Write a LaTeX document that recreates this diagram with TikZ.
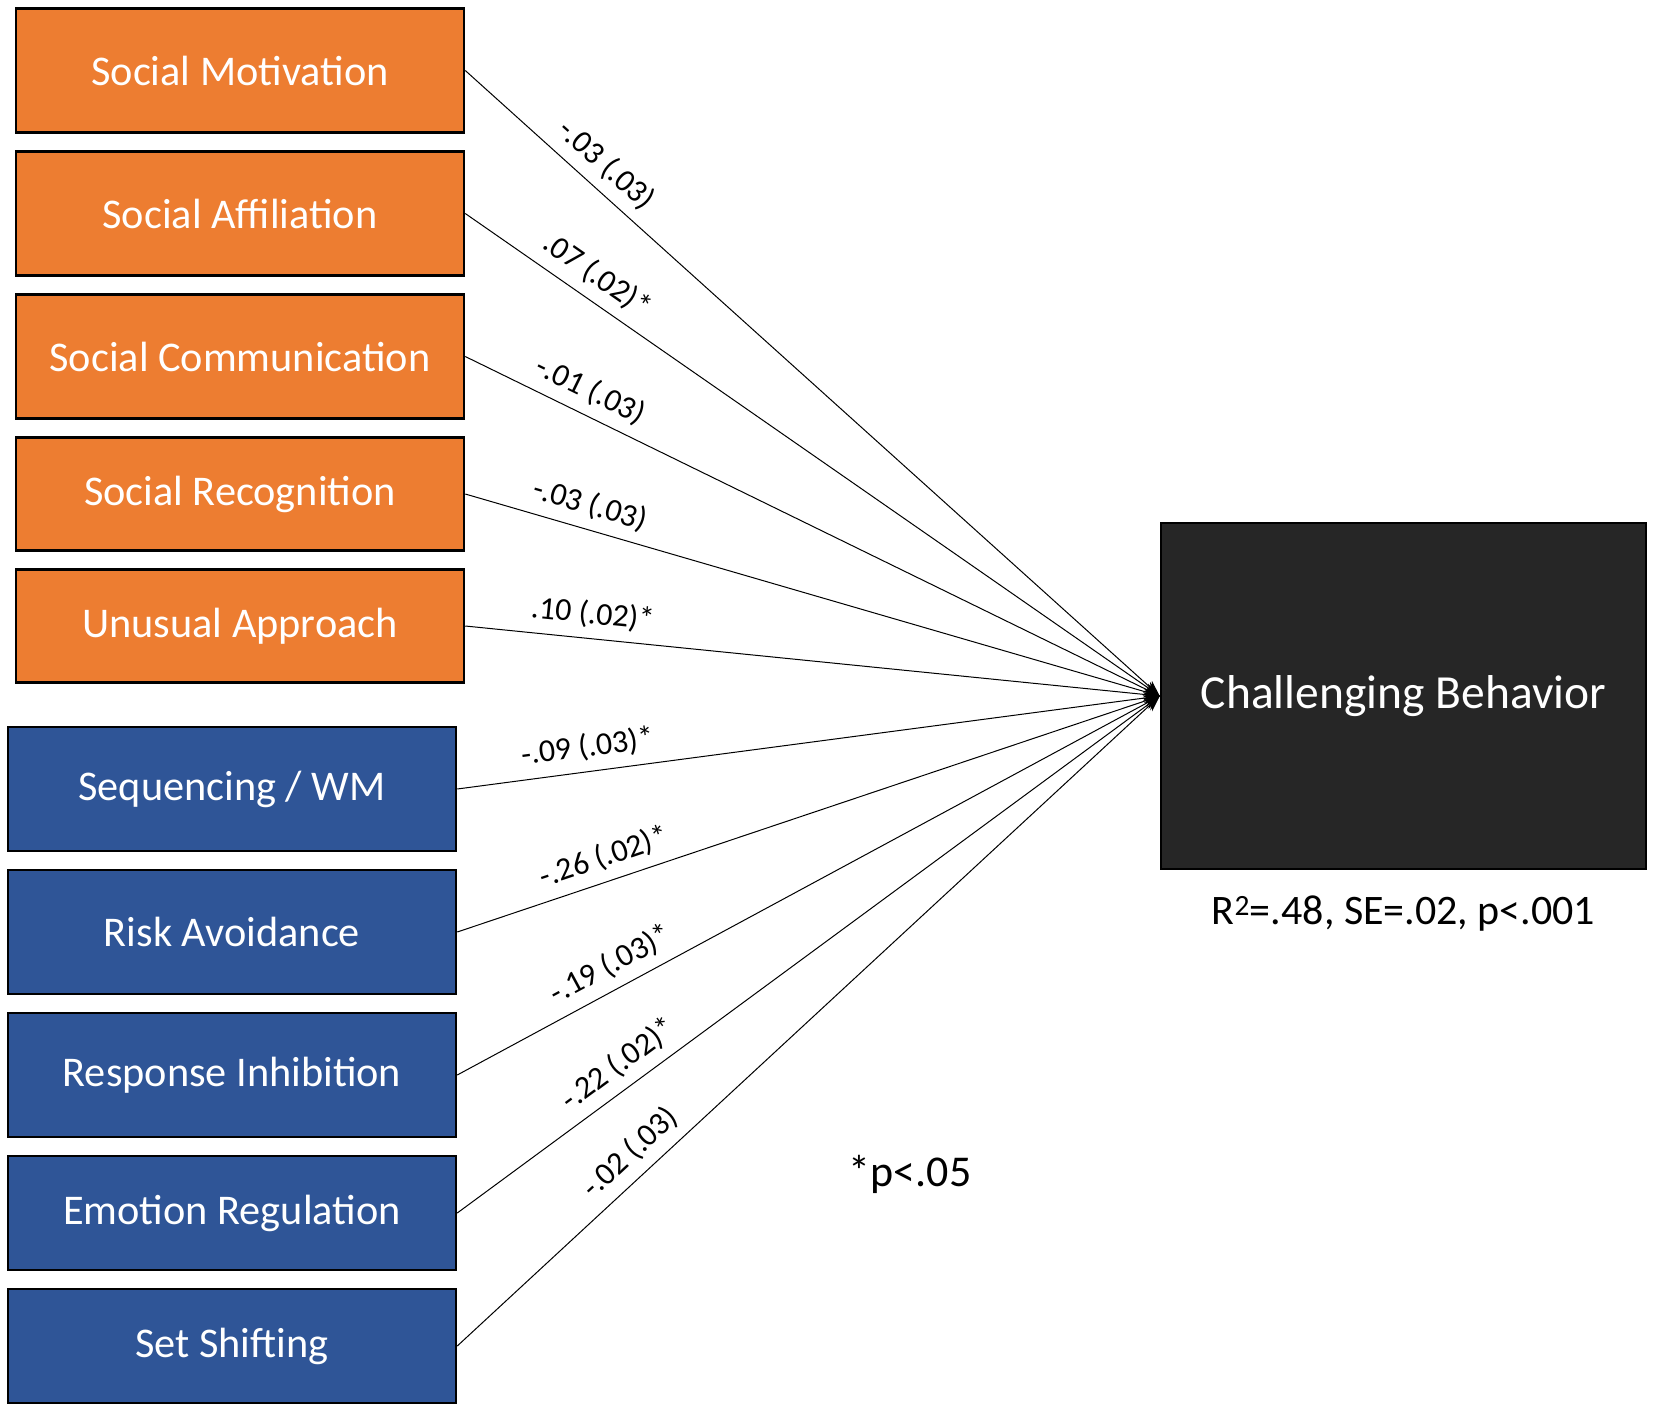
\documentclass[tikz,border=0pt]{standalone}
\usepackage{fontspec}
\setmainfont{Carlito}
\usetikzlibrary{positioning,arrows.meta}
\definecolor{orng}{HTML}{ED7D31}
\definecolor{blu}{HTML}{2F5597}
\definecolor{blk}{HTML}{262626}
\begin{document}
\begin{tikzpicture}[x=1pt, y=-1pt, node distance=16.5pt,
  box/.style={draw=black, line width=2.5pt, minimum width=448pt, text=white, font=\fontsize{42.3}{50}\selectfont},
  obox/.style={box, fill=orng, minimum height=124pt},
  bbox/.style={box, fill=blu, minimum height=124pt},
  path/.style={-{Stealth[length=16pt,width=12pt]}, line width=1pt},
  lbl/.style={sloped, above=8pt, inner sep=2pt, font=\fontsize{32}{38}\selectfont}]
\useasboundingbox (0,0) rectangle (1654,1410);

\node [obox] (SM) at (240,70.5) {Social Motivation};
\node [obox, below=of SM] (SA) {Social Affiliation};
\node [obox, below=of SA] (SC) {Social Communication};
\node [obox, below=of SC, minimum height=113pt] (SR) {Social Recognition};
\node [obox, below=of SR, minimum height=113pt] (UA) {Unusual Approach};

\node [bbox, below=42pt of UA, xshift=-8pt] (SW) {Sequencing / WM};
\node [bbox, below=of SW] (RA) {Risk Avoidance};
\node [bbox, below=of RA] (RI) {Response Inhibition};
\node [bbox, below=of RI, minimum height=114pt] (ER) {Emotion Regulation};
\node [bbox, below=of ER, minimum height=114pt] (SS) {Set Shifting};

\node [draw=black, line width=2.5pt, fill=blk, minimum width=485pt, minimum height=346pt,
  text=white, font=\fontsize{47.5}{56}\selectfont] (CB) at (1403.5,696) {Challenging Behavior};
\node [below=22pt of CB, font=\fontsize{42}{48}\selectfont] (R2) {R\textsuperscript{2}=.48, SE=.02, p<.001};
\node [font=\fontsize{44}{50}\selectfont] (P) at (910,1174) {*p<.05};

\foreach \s/\p/\l in {SM/0.18/{-.03 (.03)}, SA/0.17/{.07 (.02)*}, SC/0.165/{-.01 (.03)},
  SR/0.17/{-.03 (.03)}, UA/0.18/{.10 (.02)*}, SW/0.19/{-.09 (.03)*}, RA/0.22/{-.26 (.02)*},
  RI/0.235/{-.19 (.03)*}, ER/0.25/{-.22 (.02)*}, SS/0.27/{-.02 (.03)}}
  \draw [path] (\s.east) -- (CB.west) node [lbl, pos=\p] {\l};
\end{tikzpicture}
\end{document}
